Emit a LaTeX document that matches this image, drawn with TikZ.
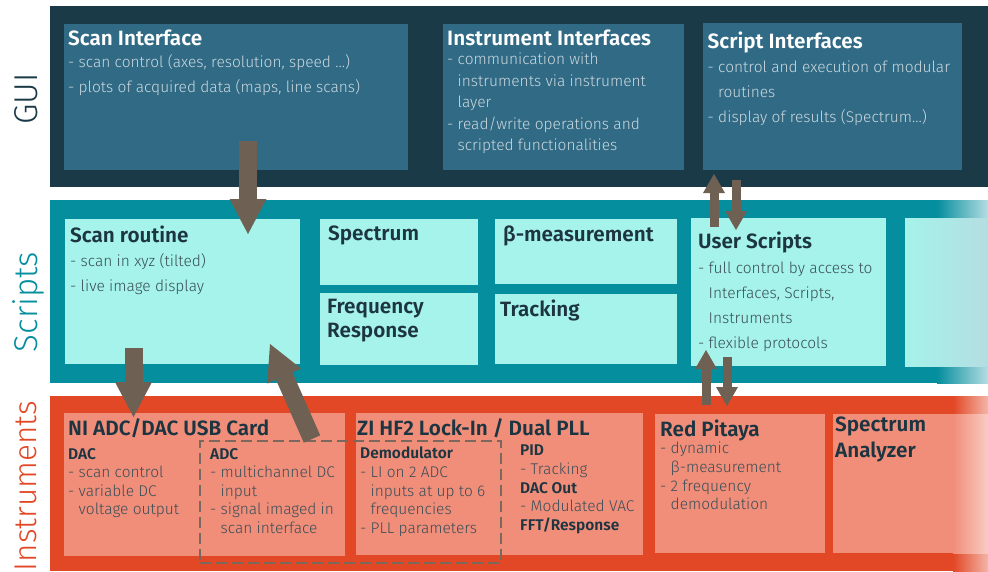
\documentclass[tikz,border=0pt]{standalone}
\usepackage{fontspec}
\setmainfont{Fira Sans Light}[BoldFont={Fira Sans SemiBold}]
\usepackage{tikz}
\usepackage{xcolor}
\usetikzlibrary{arrows.meta,positioning,calc}
\definecolor{guidark}{HTML}{1B3A48}
\definecolor{guiblue}{HTML}{306A85}
\definecolor{guitext}{HTML}{CBD8DE}
\definecolor{scriptteal}{HTML}{058E9E}
\definecolor{scriptcyan}{HTML}{A5F3EA}
\definecolor{instred}{HTML}{E24826}
\definecolor{instsalmon}{HTML}{F08E7A}
\definecolor{inkdark}{HTML}{1D3541}
\definecolor{inkbody}{HTML}{3A4E57}
\definecolor{arrowbrown}{HTML}{6E6154}
\definecolor{dashgray}{HTML}{7A675E}
\newcommand{\gtitle}[1]{{\color{white}\fontsize{20.7}{24}\selectfont\bfseries #1}}
\newcommand{\dtitle}[1]{{\color{inkdark}\fontsize{20.7}{24}\selectfont\bfseries #1}}
\newcommand{\subhd}[1]{{\color{inkdark}\bfseries #1}}
\newcommand{\ind}{\hphantom{- }}

\begin{document}
\begin{tikzpicture}[x=1pt, y=-1pt, >=Latex,
  panel/.style={anchor=north west, inner sep=0pt, outer sep=0pt, minimum width=#1},
  txt/.style={anchor=north west, inner sep=0pt, align=left},
  gtxt/.style={txt, text=guitext, font=\fontsize{15.5}{25}\selectfont},
  stxt/.style={txt, text=inkbody, font=\fontsize{15.5}{25}\selectfont},
  itxt/.style={txt, text=inkbody, font=\fontsize{15.5}{18.6}\selectfont},
  ttxt/.style={txt, text=inkdark, font=\fontsize{20.7}{24}\selectfont\bfseries},
  side/.style={rotate=90, anchor=base, inner sep=0pt, font=\fontsize{33}{33}\selectfont},
  fat/.style={draw=arrowbrown, line width=18pt, -{Triangle[width=37pt,length=35pt,line width=0pt]}},
  slim/.style={draw=arrowbrown, line width=9pt, -{Triangle[width=22pt,length=19pt,line width=0pt]}}]
\useasboundingbox (0,0) rectangle (988,571);

% layer bands
\node[panel=938, minimum height=181, fill=guidark] (guiband) at (50,6) {};
\node[panel=887, minimum height=183, fill=scriptteal] (scriptband) at (50,200) {};
\shade[left color=scriptteal, right color=scriptteal!30] (scriptband.north east) rectangle (988,383);
\node[panel=903, minimum height=175, fill=instred] (instband) at (50,396) {};
\shade[left color=instred, right color=instred!40] (instband.north east) rectangle (988,571);

\node[side, text=guidark] (guilbl) at (37,99) {GUI};
\node[side, text=scriptteal] (scriptlbl) at (37,302) {Scripts};
\node[side, text=instred, font=\fontsize{31.5}{32}\selectfont] (instlbl) at (36,486) {Instruments};

% GUI
\node[panel=344, minimum height=146, fill=guiblue] (scanif) at (64,24) {};
\node[panel=241, minimum height=146, fill=guiblue] (instrif) at (443,24) {};
\node[panel=259, minimum height=147, fill=guiblue] (scriptif) at (703,23) {};
\node[gtxt] at ([xshift=4pt,yshift=-6pt]scanif.north west)
  {\gtitle{Scan Interface}\\[-3pt] - scan control (axes, resolution, speed …)\\ - plots of acquired data (maps, line scans)};
\node[gtxt, font=\fontsize{15.5}{21.5}\selectfont] at ([xshift=4pt,yshift=-6pt]instrif.north west)
  {\gtitle{Instrument Interfaces}\\[-2.5pt] - communication with\\ \ind instruments via instrument\\ \ind layer\\ - read/write operations and\\ \ind scripted functionalities};
\node[gtxt] at ([xshift=4.5pt,yshift=-9pt]scriptif.north west)
  {\gtitle{Script Interfaces}\\[-1pt] - control and execution of modular\\ \ind routines\\ - display of results (Spectrum…)};

% Scripts
\node[panel=235, minimum height=145, fill=scriptcyan] (scanrt) at (65,219) {};
\node[panel=158, minimum height=66, fill=scriptcyan] (spectrum) at (320,219) {};
\node[panel=158, minimum height=72, fill=scriptcyan] (freqresp) at (320,293) {};
\node[panel=182, minimum height=65, fill=scriptcyan] (betameas) at (495,219) {};
\node[panel=182, minimum height=70, fill=scriptcyan] (tracking) at (495,294) {};
\node[panel=195, minimum height=148, fill=scriptcyan] (userscr) at (691,218) {};
\shade[left color=scriptcyan, middle color=scriptteal!55!scriptcyan, right color=scriptteal!30] (905,218) rectangle (988,366);
\node[stxt] at ([xshift=5pt,yshift=-7pt]scanrt.north west)
  {\dtitle{Scan routine}\\[-1pt] - scan in xyz (tilted)\\ - live image display};
\node[ttxt] at ([xshift=8pt,yshift=-7pt]spectrum.north west) {Spectrum};
\node[ttxt] at ([xshift=7pt,yshift=-6pt]freqresp.north west) {Frequency\\Response};
\node[ttxt] at ([xshift=8pt,yshift=-7pt]betameas.north west) {β-measurement};
\node[ttxt] at ([xshift=5pt,yshift=-6pt]tracking.north west) {Tracking};
\node[stxt] at ([xshift=7pt,yshift=-14pt]userscr.north west)
  {\dtitle{User Scripts}\\ - full control by access to\\ \ind Interfaces, Scripts,\\ \ind Instruments\\ - flexible protocols};

% Instruments
\node[panel=281, minimum height=143, fill=instsalmon] (nicard) at (64,413) {};
\node[panel=287, minimum height=142, fill=instsalmon] (zihf2) at (356,413) {};
\node[panel=170, minimum height=139, fill=instsalmon] (redpit) at (655,414) {};
\node[panel=155, minimum height=139, fill=instsalmon] (specan) at (833,414) {};
\shade[left color=instsalmon, right color=instsalmon!45] (953,414) rectangle (specan.south east);
\node[ttxt] at ([xshift=4pt,yshift=-5pt]nicard.north west) {NI ADC/DAC USB Card};
\node[itxt] at ([xshift=4pt,yshift=-35pt]nicard.north west)
  {\subhd{DAC}\\ - scan control\\ - variable DC\\ \ind voltage output};
\node[itxt] at ([xshift=146pt,yshift=-35pt]nicard.north west)
  {\subhd{ADC}\\ - multichannel DC\\ \ind input\\ - signal imaged in\\ \ind scan interface};
\node[ttxt] at ([xshift=1pt,yshift=-5pt]zihf2.north west) {ZI HF2 Lock-In / Dual PLL};
\node[itxt] at ([xshift=4pt,yshift=-34pt]zihf2.north west)
  {\subhd{Demodulator}\\ - LI on 2 ADC\\ \ind inputs at up to 6\\ \ind frequencies\\ - PLL parameters};
\node[itxt] at ([xshift=164pt,yshift=-32pt]zihf2.north west)
  {\subhd{PID}\\ - Tracking\\ \subhd{DAC Out}\\ - Modulated VAC\\ \subhd{FFT/Response}};
\node[itxt] at ([xshift=5pt,yshift=-6pt]redpit.north west)
  {\dtitle{Red Pitaya}\\[-1.5pt] - dynamic\\ \ind β-measurement\\ - 2 frequency\\ \ind demodulation};
\node[ttxt, font=\fontsize{20.7}{26}\selectfont\bfseries] at ([xshift=2pt,yshift=-3pt]specan.north west) {Spectrum\\Analyzer};
\node[panel=301, minimum height=122, draw=dashgray, line width=2.8pt, dash pattern=on 11pt off 5pt] (adcgroup) at (200,441) {};

% data flow
\draw[fat] ([xshift=12pt,yshift=29pt]scanif.south) -- ([xshift=65.5pt,yshift=-15pt]scanrt.north);
\draw[fat] ([xshift=-49pt,yshift=16pt]scanrt.south) -- ([xshift=-71pt,yshift=-4pt]nicard.north);
\draw[fat] ([xshift=-38.5pt,yshift=2pt]adcgroup.north) -- ([xshift=-30pt,yshift=20pt]scanrt.south east);
\draw[slim] ([xshift=23pt,yshift=-9pt]userscr.north west) -- ([xshift=11pt,yshift=-4pt]scriptif.south west);
\draw[slim] ([xshift=33pt,yshift=-10pt]scriptif.south west) -- ([xshift=45pt,yshift=-12pt]userscr.north west);
\draw[slim] ([xshift=51pt,yshift=9pt]redpit.north west) -- ([xshift=15pt,yshift=16pt]userscr.south west);
\draw[slim] ([xshift=36pt,yshift=9pt]userscr.south west) -- ([xshift=72pt,yshift=8pt]redpit.north west);
\end{tikzpicture}
\end{document}
